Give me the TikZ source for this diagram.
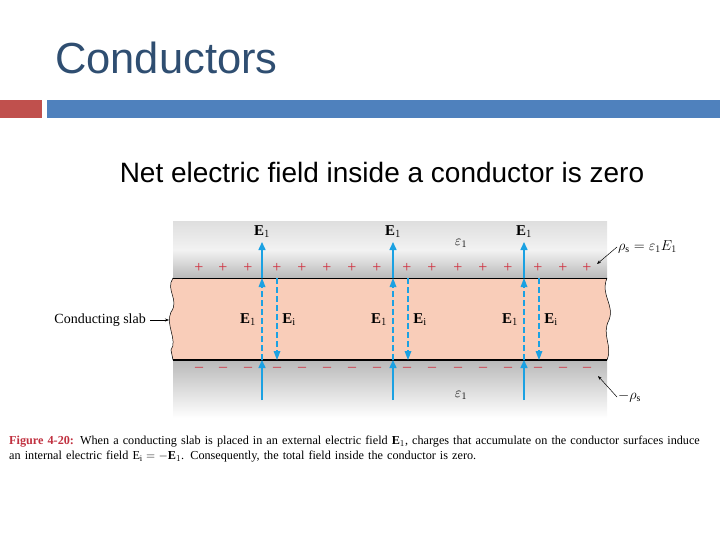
\documentclass[tikz,border=0pt]{standalone}
\usepackage{fontspec}
\setmainfont{Liberation Serif}
\newfontfamily\arial{Liberation Sans}
\usetikzlibrary{arrows.meta}
\definecolor{barblue}{HTML}{4F81BD}
\definecolor{barred}{HTML}{C0504D}
\definecolor{fblue}{HTML}{1BA1E2}
\definecolor{slab}{HTML}{F9CDB9}
\definecolor{chgred}{HTML}{D0303F}
\definecolor{capred}{HTML}{C0303F}
\begin{document}
\begin{tikzpicture}[x=1pt,y=-1pt,
  fld/.style={fblue,line width=1.5pt,-{Triangle[length=8pt,width=7pt]}},
  fldd/.style={fblue,line width=2.8pt,dash pattern=on 6pt off 3pt},
  lab/.style={font=\fontsize{15}{17}\selectfont\bfseries},
  chg/.style={text=chgred,font=\fontsize{16}{18}\selectfont},
  note/.style={font=\fontsize{14}{16}\selectfont}]
\useasboundingbox (0,0) rectangle (720,540);
\fill[barred] (0,100) rectangle (42,118);
\fill[barblue] (47,100) rectangle (720,118);
\node[anchor=west,font=\arial\fontsize{43.5}{46}\selectfont,text=barblue!60!black,inner sep=0pt] (title) at (55,58) {Conductors};
\node[font=\arial\fontsize{28}{31}\selectfont] (sub) at (382,172) {Net electric field inside a conductor is zero};
% gray background
\shade[top color=gray!25, bottom color=gray!55, middle color=gray!10] (173,222) rectangle (607,278);
\shade[top color=gray!55, bottom color=white] (173,360) rectangle (607,418);
% slab
\fill[slab] (173,278) .. controls (165,290) and (180,300) .. (171,312) .. controls (165,325) and (178,340) .. (171,350) -- (173,360) -- (607,360)
  .. controls (613,345) and (601,335) .. (609,320) .. controls (615,305) and (600,295) .. (607,278) -- cycle;
\draw[line width=1pt] (173,278) -- (607,278);
\draw[line width=1.4pt] (173,360) -- (607,360);
\draw[line width=0.5pt] (173,278) .. controls (165,290) and (180,300) .. (171,312) .. controls (165,325) and (178,340) .. (171,350) -- (173,360);
\draw[line width=0.5pt] (607,360) .. controls (613,345) and (601,335) .. (609,320) .. controls (615,305) and (600,295) .. (607,278);
% charges
\foreach \x in {199,223,248,277,302,327,352,377,407,432,458,483,508,538,563,587}{
  \node[chg] at (\x,268) {+};
  \node[chg] at (\x,369) {--};}
% field arrows
\foreach \x/\n in {262/a,393/b,524/c}{
  \coordinate (b\n) at (\x,400); \coordinate (l\n) at (\x,360);
  \coordinate (u\n) at (\x,278); \coordinate (t\n) at (\x,242);
  \draw[fld] (b\n) -- (l\n);
  \draw[fldd] (l\n) -- (\x,287);
  \fill[fblue] (u\n) -- ++(-3.5,9) -- ++(7,0) -- cycle;
  \draw[fld] (u\n) -- (t\n);
  \node[lab] (E\n) at (\x,232) {E$_1$};
  \coordinate (iu\n) at (\x+15,278); \coordinate (il\n) at (\x+15,360);
  \draw[fldd] (iu\n) -- (\x+15,351);
  \fill[fblue] (il\n) -- ++(-3.5,-9) -- ++(7,0) -- cycle;
  \node[lab] (Ein\n) at (\x-14,320) {E$_1$};
  \node[lab] (Ei\n) at (\x+27,320) {E$_{\mathrm{i}}$};
}
\node[note] (eps1) at (461,243) {$\varepsilon_1$};
\node[note] (eps2) at (461,395) {$\varepsilon_1$};
\node[note,anchor=west,inner sep=1pt] (rho) at (617,247) {$\rho_{\mathrm s}=\varepsilon_1E_1$};
\coordinate (rhoe) at (597,264);
\draw[-{Stealth[length=4pt]},line width=0.5pt] (rho.west) -- (rhoe);
\node[note,anchor=west,inner sep=1pt] (mrho) at (617,397) {$-\rho_{\mathrm s}$};
\coordinate (mrhoe) at (598,376);
\draw[-{Stealth[length=4pt]},line width=0.5pt] (mrho.west) -- (mrhoe);
\node[note,anchor=east,inner sep=4pt] (cs) at (150,320) {Conducting slab};
\coordinate (cse) at (169,320);
\draw[-{Stealth[length=4pt]},line width=0.5pt] (cs.east) -- (cse);
\node[anchor=north west,text width=705pt,align=left,font=\fontsize{12.2}{15}\selectfont,inner sep=0pt] (cap) at (9,436)
 {\textcolor{capred}{\textbf{Figure 4-20:}} When a conducting slab is placed in an external electric field $\mathbf{E}_1$, charges that accumulate on the conductor surfaces induce\\ an internal electric field $\mathrm{E}_{\mathrm i}=-\mathbf{E}_1$. Consequently, the total field inside the conductor is zero.};
\end{tikzpicture}
\end{document}
